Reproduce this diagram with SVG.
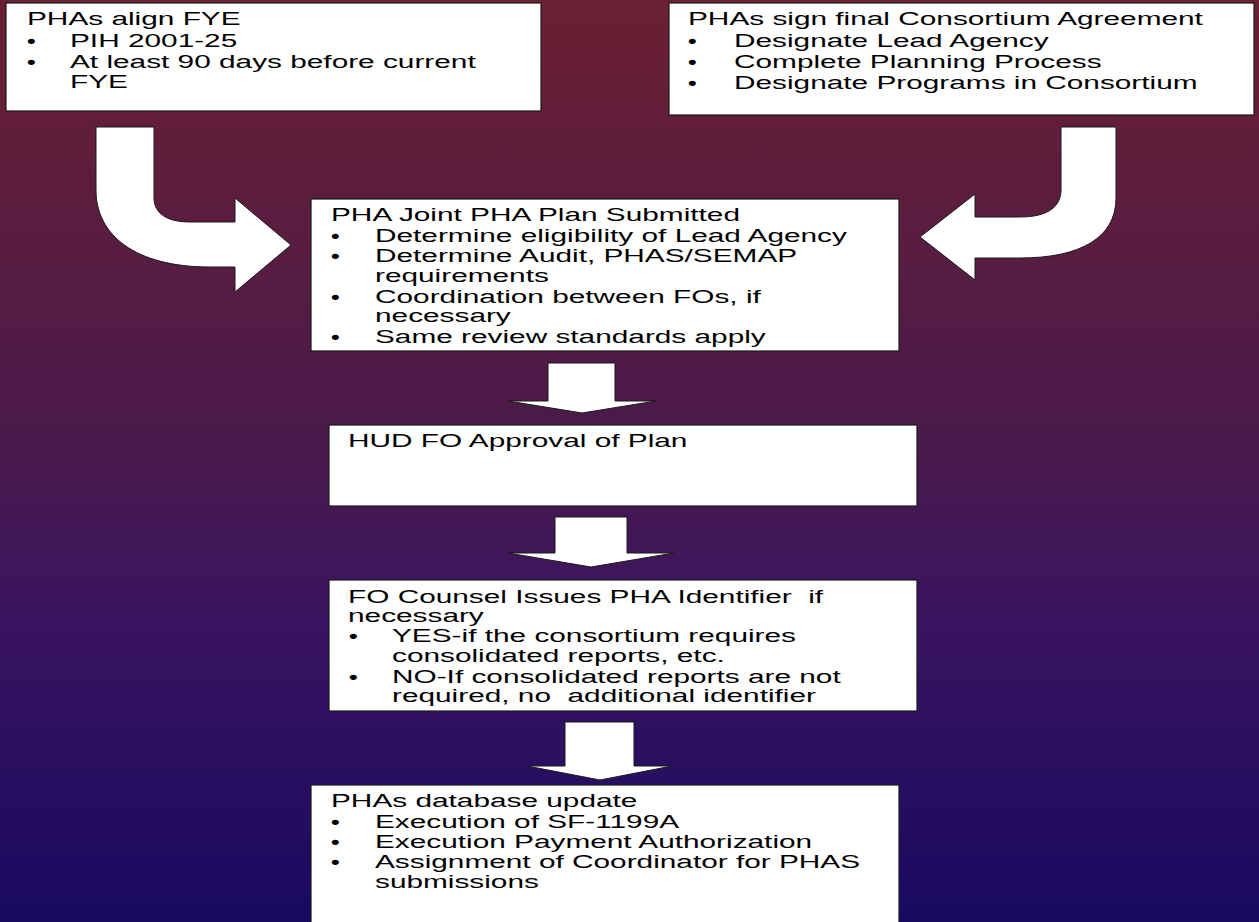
<svg xmlns="http://www.w3.org/2000/svg" width="1259" height="922" viewBox="0 0 1259 922">
<defs>
<linearGradient id="bg" x1="0" y1="0" x2="0" y2="1">
<stop offset="0" stop-color="#6b2032"/>
<stop offset="0.48" stop-color="#4a1a4c"/>
<stop offset="0.67" stop-color="#3a1460"/>
<stop offset="1" stop-color="#180a60"/>
</linearGradient>
<style>
.box{fill:#fff;stroke:#1a1a1a;stroke-width:1.2}
.arr{fill:#fff;stroke:#1a1a1a;stroke-width:1}
.t{font-family:"Liberation Sans",Arial,sans-serif;font-size:18px;fill:#000}
.b{font-family:"Liberation Sans",Arial,sans-serif;font-size:19px;font-weight:bold;fill:#000}
</style>
</defs>
<rect x="0" y="0" width="1259" height="922" fill="url(#bg)"/>
<g id="connectors">
<path class="arr" d="M96,127 H154 V198 C154,214 168,222 190,222 H235 V198 L291,245 L235,292 V267 H210 C135,267 96,235 96,190 Z"/>
<path class="arr" d="M1061,127 H1116 V198 C1116,238 1080,258 1020,258 H975 V280 L920,237 L975,194 V217 H1020 C1050,217 1061,205 1061,190 Z"/>
<path class="arr" d="M548,363 H615 V401 H656 L582,413 L508,401 H548 Z"/>
<path class="arr" d="M555,517 H627 V553 H674 L591,567 L508,553 H555 Z"/>
<path class="arr" d="M565,722 H634 V766 H672 L600,780 L527,766 H565 Z"/>
</g>
<g id="node-align">
<rect class="box" x="6" y="3" width="535" height="108"/>
<text class="t" transform="translate(27 25) scale(1.655 1)">PHAs align FYE</text>
<text class="b" transform="translate(27 47) scale(1.3 1)">•</text>
<text class="t" transform="translate(70 47) scale(1.655 1)">PIH 2001-25</text>
<text class="b" transform="translate(27 68) scale(1.3 1)">•</text>
<text class="t" transform="translate(70 68) scale(1.655 1)">At least 90 days before current</text>
<text class="t" transform="translate(70 88) scale(1.655 1)">FYE</text>
</g>
<g id="node-consortium">
<rect class="box" x="669" y="3" width="585" height="112"/>
<text class="t" transform="translate(688 25) scale(1.655 1)">PHAs sign final Consortium Agreement</text>
<text class="b" transform="translate(688 47) scale(1.3 1)">•</text>
<text class="t" transform="translate(734 47) scale(1.655 1)">Designate Lead Agency</text>
<text class="b" transform="translate(688 68) scale(1.3 1)">•</text>
<text class="t" transform="translate(734 68) scale(1.655 1)">Complete Planning Process</text>
<text class="b" transform="translate(688 89) scale(1.3 1)">•</text>
<text class="t" transform="translate(734 89) scale(1.655 1)">Designate Programs in Consortium</text>
</g>
<g id="node-plan">
<rect class="box" x="311" y="199" width="588" height="152"/>
<text class="t" transform="translate(331 221) scale(1.655 1)">PHA Joint PHA Plan Submitted</text>
<text class="b" transform="translate(331 242) scale(1.3 1)">•</text>
<text class="t" transform="translate(375 242) scale(1.655 1)">Determine eligibility of Lead Agency</text>
<text class="b" transform="translate(331 262) scale(1.3 1)">•</text>
<text class="t" transform="translate(375 262) scale(1.655 1)">Determine Audit, PHAS/SEMAP</text>
<text class="t" transform="translate(375 282) scale(1.655 1)">requirements</text>
<text class="b" transform="translate(331 303) scale(1.3 1)">•</text>
<text class="t" transform="translate(375 303) scale(1.655 1)">Coordination between FOs, if</text>
<text class="t" transform="translate(375 322) scale(1.655 1)">necessary</text>
<text class="b" transform="translate(331 343) scale(1.3 1)">•</text>
<text class="t" transform="translate(375 343) scale(1.655 1)">Same review standards apply</text>
</g>
<g id="node-approval">
<rect class="box" x="329" y="425" width="588" height="81"/>
<text class="t" transform="translate(348 447) scale(1.655 1)">HUD FO Approval of Plan</text>
</g>
<g id="node-identifier">
<rect class="box" x="329" y="580" width="588" height="131"/>
<text class="t" transform="translate(348 603) scale(1.655 1)" xml:space="preserve">FO Counsel Issues PHA Identifier  if</text>
<text class="t" transform="translate(348 622) scale(1.655 1)">necessary</text>
<text class="b" transform="translate(349 642) scale(1.3 1)">•</text>
<text class="t" transform="translate(392 642) scale(1.655 1)">YES-if the consortium requires</text>
<text class="t" transform="translate(392 662) scale(1.655 1)">consolidated reports, etc.</text>
<text class="b" transform="translate(349 683) scale(1.3 1)">•</text>
<text class="t" transform="translate(392 683) scale(1.655 1)">NO-If consolidated reports are not</text>
<text class="t" transform="translate(392 702) scale(1.655 1)" xml:space="preserve">required, no  additional identifier</text>
</g>
<g id="node-database">
<rect class="box" x="311" y="785" width="588" height="145"/>
<text class="t" transform="translate(331 807) scale(1.655 1)">PHAs database update</text>
<text class="b" transform="translate(331 828) scale(1.3 1)">•</text>
<text class="t" transform="translate(375 828) scale(1.655 1)">Execution of SF-1199A</text>
<text class="b" transform="translate(331 848) scale(1.3 1)">•</text>
<text class="t" transform="translate(375 848) scale(1.655 1)">Execution Payment Authorization</text>
<text class="b" transform="translate(331 868) scale(1.3 1)">•</text>
<text class="t" transform="translate(375 868) scale(1.655 1)">Assignment of Coordinator for PHAS</text>
<text class="t" transform="translate(375 888) scale(1.655 1)">submissions</text>
</g>
</svg>
